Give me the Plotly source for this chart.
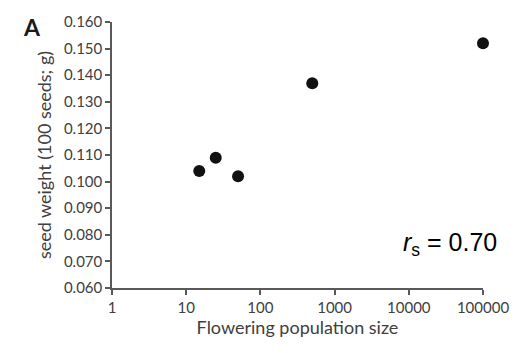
import plotly.graph_objects as go

population_size = [15, 25, 50, 500, 100000]
seed_weight = [0.104, 0.109, 0.102, 0.137, 0.152]
x_ticks = [1, 10, 100, 1000, 10000, 100000]
y_ticks = [0.060, 0.070, 0.080, 0.090, 0.100, 0.110, 0.120, 0.130, 0.140, 0.150, 0.160]

axis_color = "#595959"
font_fam = "Lato, Open Sans, sans-serif"

fig = go.Figure()
fig.add_trace(go.Scatter(
    x=population_size, y=seed_weight, mode="markers",
    marker=dict(size=12, color="#111111"),
    showlegend=False, cliponaxis=False,
))

fig.update_layout(
    width=522, height=353,
    margin=dict(l=112, r=39, t=13, b=65),
    plot_bgcolor="white", paper_bgcolor="white",
    font=dict(family=font_fam, color="#404040"),
    xaxis=dict(
        type="log", range=[0, 5],
        tickvals=x_ticks, ticktext=[str(v) for v in x_ticks],
        showgrid=False, zeroline=False,
        showline=True, linecolor=axis_color, linewidth=1.5,
        ticks="outside", ticklen=5, tickcolor=axis_color, tickwidth=1.5,
        tickfont=dict(size=15, color="#404040"),
        title=dict(text="Flowering population size", font=dict(size=18, color="#404040"), standoff=4),
    ),
    yaxis=dict(
        range=[0.060, 0.160],
        tickvals=y_ticks, ticktext=[f"{v:.3f}" for v in y_ticks],
        showgrid=False, zeroline=False,
        showline=True, linecolor=axis_color, linewidth=1.5,
        ticks="outside", ticklen=5, tickcolor=axis_color, tickwidth=1.5,
        tickfont=dict(size=15, color="#404040"),
        title=dict(text="seed weight (100 seeds; g)", font=dict(size=18, color="#404040"), standoff=8),
    ),
)

fig.add_annotation(
    text="<b>A</b>", xref="paper", yref="paper",
    x=-0.215, y=0.982, xanchor="center", yanchor="middle",
    showarrow=False, font=dict(size=23, color="#1a1a1a", family=font_fam),
)
fig.add_annotation(
    text="<i>r</i><sub>s</sub> = 0.70", xref="paper", yref="paper",
    x=0.78, y=0.165, xanchor="left", yanchor="middle",
    showarrow=False, font=dict(size=25, color="#000000", family="Liberation Sans, Arial, sans-serif"),
)

fig.write_html("out.html")
